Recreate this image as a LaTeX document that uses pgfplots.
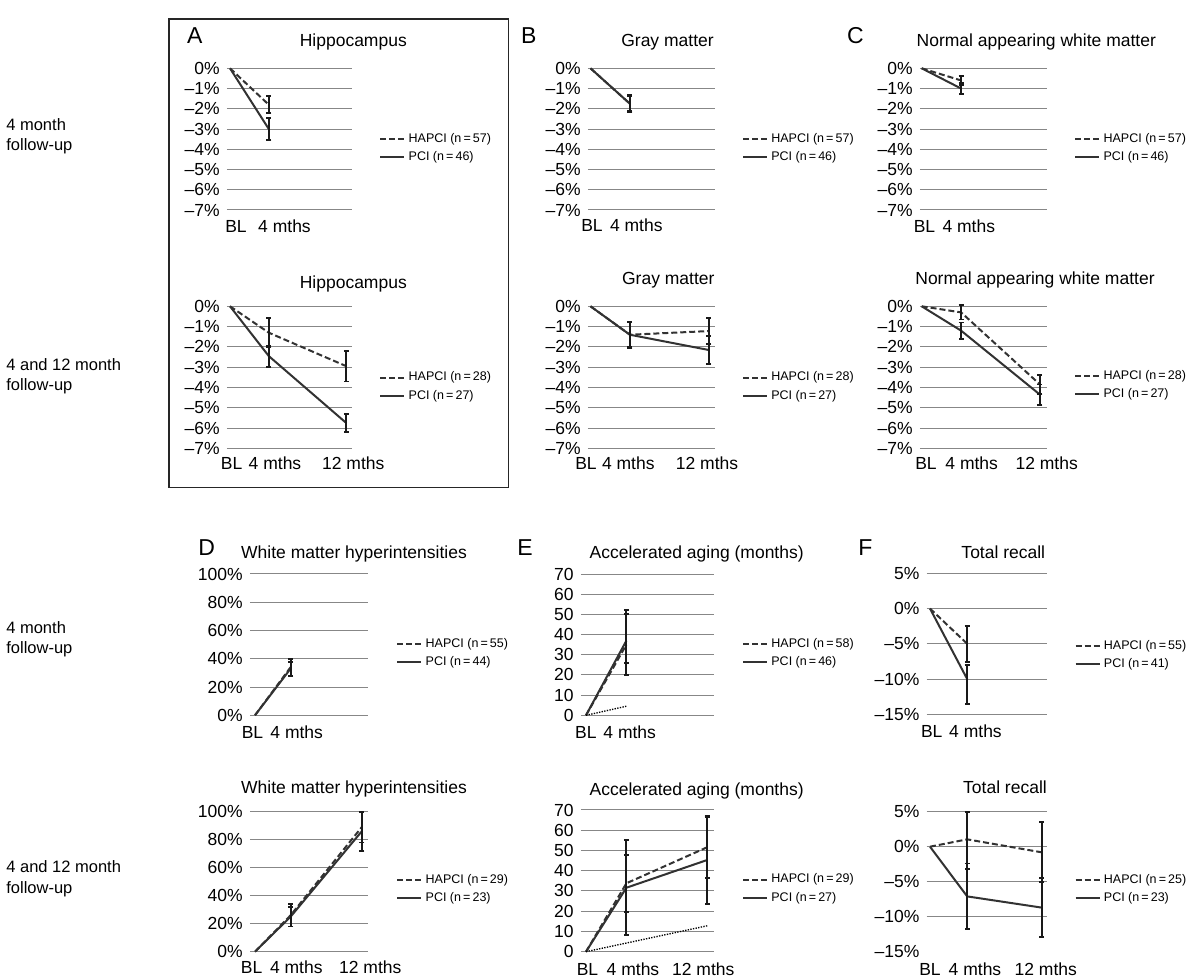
\documentclass[border=0pt]{standalone}
\usepackage{fontspec}
\setmainfont{Liberation Sans}
\usepackage{pgfplots}
\pgfplotsset{compat=1.18}

\definecolor{linec}{RGB}{50,50,50}
\definecolor{gridc}{RGB}{135,135,135}

\newcommand\mainf{\fontsize{10.5pt}{12pt}\selectfont}
\newcommand\legf{\fontsize{7.5pt}{9pt}\selectfont}
\newcommand\rowf{\fontsize{9.9pt}{12pt}\selectfont}
\newcommand\letf{\fontsize{13.8pt}{16pt}\selectfont}

\pgfplotsset{
  panel/.style={
    scale only axis, clip=false, anchor=south west,
    axis line style={draw=none},
    major tick length=0pt, xtick=\empty,
    ymajorgrids, grid style={gridc, line width=0.6pt},
    tick label style={font=\mainf, inner sep=0pt},
    /pgf/number format/assume math mode=true,
    yticklabel shift=4.2pt,
    legend style={draw=none, fill=none, font=\legf, anchor=west},
    legend cell align=left,
    legend image code/.code={\draw[##1] (0pt,0pt) -- (14.4pt,0pt);},
  },
  pctrow/.style={ymin=-7, ymax=0, ytick={-7,...,0},
    yticklabels={--7\%,--6\%,--5\%,--4\%,--3\%,--2\%,--1\%,0\%}},
  hapci/.style={linec, line width=1.2pt, dash pattern=on 3.6pt off 1.8pt, mark=none},
  pci/.style={linec, line width=1.2pt, mark=none},
  ebar/.style={draw=none, mark=none, forget plot,
    error bars/y dir=both, error bars/y explicit,
    error bars/error mark=-,
    error bars/error bar style={draw=black!90, line width=1.1pt, solid},
    error bars/error mark options={draw=black!90, line width=1.1pt, mark size=1.5pt, solid, rotate=90}},
  normal/.style={black, line width=0.8pt, dash pattern=on 0.8pt off 0.8pt, forget plot},
}

\begin{document}
\begin{tikzpicture}[x=0.6pt, y=-0.6pt]
\useasboundingbox (0,0) rectangle (1192,979);

% ---------- row 1: 4 month follow-up ----------
\begin{axis}[panel, pctrow, at={(136.2pt,-126pt)}, width=75pt, height=85.02pt,
  xmin=-0.309, xmax=12.577, legend style={at={(axis description cs:1.176,0.4375)}}]
\addplot[hapci] coordinates {(0,0) (4,-1.8)};
\addlegendentry{HAPCI (n\,=\,57)}
\addplot[pci] coordinates {(0,0) (4,-3.0)};
\addlegendentry{PCI (n\,=\,46)}
\addplot[ebar] coordinates {(4,-1.8) +- (0,0.42)};
\addplot[ebar] coordinates {(4,-3.0) +- (0,0.53)};
\end{axis}

\begin{axis}[panel, pctrow, at={(352.8pt,-126pt)}, width=76.2pt, height=85.02pt,
  xmin=-0.254, xmax=12.64, legend style={at={(axis description cs:1.171,0.4375)}}]
\addplot[hapci] coordinates {(0,0) (4,-1.75)};
\addlegendentry{HAPCI (n\,=\,57)}
\addplot[pci] coordinates {(0,0) (4,-1.75)};
\addlegendentry{PCI (n\,=\,46)}
\addplot[ebar] coordinates {(4,-1.75) +- (0,0.38)};
\addplot[ebar] coordinates {(4,-1.75) +- (0,0.42)};
\end{axis}

\begin{axis}[panel, pctrow, at={(552pt,-126pt)}, width=76.2pt, height=85.02pt,
  xmin=-0.172, xmax=12.71, legend style={at={(axis description cs:1.173,0.4375)}}]
\addplot[hapci] coordinates {(0,0) (4,-0.6)};
\addlegendentry{HAPCI (n\,=\,57)}
\addplot[pci] coordinates {(0,0) (4,-1.0)};
\addlegendentry{PCI (n\,=\,46)}
\addplot[ebar] coordinates {(4,-0.6) +- (0,0.22)};
\addplot[ebar] coordinates {(4,-1.0) +- (0,0.27)};
\end{axis}

% ---------- row 2: 4 and 12 month follow-up ----------
\begin{axis}[panel, pctrow, at={(136.2pt,-269.1pt)}, width=75pt, height=85.32pt,
  xmin=-0.309, xmax=12.577, legend style={at={(axis description cs:1.176,0.4346)}}]
\addplot[hapci] coordinates {(0,0) (4,-1.3) (12,-2.95)};
\addlegendentry{HAPCI (n\,=\,28)}
\addplot[pci] coordinates {(0,0) (4,-2.45) (12,-5.75)};
\addlegendentry{PCI (n\,=\,27)}
\addplot[ebar] coordinates {(4,-1.3) +- (0,0.72) (12,-2.95) +- (0,0.75)};
\addplot[ebar] coordinates {(4,-2.45) +- (0,0.52) (12,-5.75) +- (0,0.45)};
\end{axis}

\begin{axis}[panel, pctrow, at={(352.8pt,-269.1pt)}, width=76.2pt, height=85.32pt,
  xmin=-0.254, xmax=12.64, legend style={at={(axis description cs:1.171,0.4346)}}]
\addplot[hapci] coordinates {(0,0) (4,-1.4) (12,-1.22)};
\addlegendentry{HAPCI (n\,=\,28)}
\addplot[pci] coordinates {(0,0) (4,-1.4) (12,-2.15)};
\addlegendentry{PCI (n\,=\,27)}
\addplot[ebar] coordinates {(4,-1.4) +- (0,0.6) (12,-1.22) +- (0,0.65)};
\addplot[ebar] coordinates {(4,-1.4) +- (0,0.65) (12,-2.15) +- (0,0.68)};
\end{axis}

\begin{axis}[panel, pctrow, at={(552pt,-269.1pt)}, width=76.2pt, height=85.32pt,
  xmin=-0.172, xmax=12.71, legend style={at={(axis description cs:1.173,0.444)}}]
\addplot[hapci] coordinates {(0,0) (4,-0.3) (12,-3.85)};
\addlegendentry{HAPCI (n\,=\,28)}
\addplot[pci] coordinates {(0,0) (4,-1.2) (12,-4.35)};
\addlegendentry{PCI (n\,=\,27)}
\addplot[ebar] coordinates {(4,-0.3) +- (0,0.35) (12,-3.85) +- (0,0.45)};
\addplot[ebar] coordinates {(4,-1.2) +- (0,0.4) (12,-4.35) +- (0,0.5)};
\end{axis}

% ---------- row 3: 4 month follow-up ----------
\begin{axis}[panel, at={(150pt,-429.18pt)}, width=70.8pt, height=84.78pt,
  xmin=-0.562, xmax=12.7, ymin=0, ymax=100, ytick={0,20,...,100},
  yticklabels={0\%,20\%,40\%,60\%,80\%,100\%},
  legend style={at={(axis description cs:1.195,0.4388)}}]
\addplot[hapci] coordinates {(0,0) (4,34)};
\addlegendentry{HAPCI (n\,=\,55)}
\addplot[pci] coordinates {(0,0) (4,33)};
\addlegendentry{PCI (n\,=\,44)}
\addplot[ebar] coordinates {(4,34) +- (0,6)};
\addplot[ebar] coordinates {(4,33) +- (0,5)};
\end{axis}

\begin{axis}[panel, at={(348.6pt,-429.18pt)}, width=79.8pt, height=84.78pt,
  xmin=-0.495, xmax=12.67, ymin=0, ymax=70, ytick={0,10,...,70},
  yticklabels={0,10,20,30,40,50,60,70},
  legend style={at={(axis description cs:1.171,0.4388)}}]
\addplot[hapci] coordinates {(0,0) (4,35)};
\addlegendentry{HAPCI (n\,=\,58)}
\addplot[pci] coordinates {(0,0) (4,37)};
\addlegendentry{PCI (n\,=\,46)}
\addplot[normal] coordinates {(0,0) (4,4.5)};
\addplot[ebar] coordinates {(4,35) += (0,15) -= (0,9)};
\addplot[ebar] coordinates {(4,37) += (0,15) -= (0,17)};
\end{axis}

\begin{axis}[panel, at={(556.02pt,-428.58pt)}, width=72.18pt, height=84.6pt,
  xmin=-0.355, xmax=12.58, ymin=-15, ymax=5, ytick={-15,-10,...,5},
  yticklabels={--15\%,--10\%,--5\%,0\%,5\%},
  legend style={at={(axis description cs:1.185,0.42)}}]
\addplot[hapci] coordinates {(0,0) (4,-5.0)};
\addlegendentry{HAPCI (n\,=\,55)}
\addplot[pci] coordinates {(0,0) (4,-10.0)};
\addlegendentry{PCI (n\,=\,41)}
\addplot[ebar] coordinates {(4,-5.0) += (0,2.5) -= (0,2.6)};
\addplot[ebar] coordinates {(4,-10.0) += (0,2.0) -= (0,3.5)};
\end{axis}

% ---------- row 4: 4 and 12 month follow-up ----------
\begin{axis}[panel, at={(150pt,-571.02pt)}, width=70.8pt, height=84pt,
  xmin=-0.562, xmax=12.7, ymin=0, ymax=100, ytick={0,20,...,100},
  yticklabels={0\%,20\%,40\%,60\%,80\%,100\%},
  legend style={at={(axis description cs:1.195,0.449)}}]
\addplot[hapci] coordinates {(0,0) (4,26) (12,89)};
\addlegendentry{HAPCI (n\,=\,29)}
\addplot[pci] coordinates {(0,0) (4,25) (12,86)};
\addlegendentry{PCI (n\,=\,23)}
\addplot[ebar] coordinates {(4,26) +- (0,8) (12,89) +- (0,11)};
\addplot[ebar] coordinates {(4,25) +- (0,7) (12,86) +- (0,14)};
\end{axis}

\begin{axis}[panel, at={(348.6pt,-571.02pt)}, width=79.8pt, height=85.02pt,
  xmin=-0.495, xmax=12.67, ymin=0, ymax=70, ytick={0,10,...,70},
  yticklabels={0,10,20,30,40,50,60,70},
  legend style={at={(axis description cs:1.171,0.4446)}}]
\addplot[hapci] coordinates {(0,0) (4,33.8) (12,51.6)};
\addlegendentry{HAPCI (n\,=\,29)}
\addplot[pci] coordinates {(0,0) (4,31.6) (12,45.3)};
\addlegendentry{PCI (n\,=\,27)}
\addplot[normal] coordinates {(0,0) (12,12.8)};
\addplot[ebar] coordinates {(4,33.8) +- (0,14) (12,51.6) +- (0,15)};
\addplot[ebar] coordinates {(4,31.6) +- (0,23.5) (12,45.3) +- (0,21.7)};
\end{axis}

\begin{axis}[panel, at={(556.02pt,-571.02pt)}, width=72.18pt, height=84pt,
  xmin=-0.355, xmax=12.58, ymin=-15, ymax=5, ytick={-10,-5,0,5},
  yticklabels={--10\%,--5\%,0\%,5\%},
  extra y ticks={-15}, extra y tick labels={--15\%}, extra y tick style={grid=none},
  legend style={at={(axis description cs:1.185,0.446)}}]
\addplot[hapci] coordinates {(0,0) (4,1.05) (12,-0.8)};
\addlegendentry{HAPCI (n\,=\,25)}
\addplot[pci] coordinates {(0,0) (4,-7.1) (12,-8.7)};
\addlegendentry{PCI (n\,=\,23)}
\addplot[ebar] coordinates {(4,1.05) += (0,3.95) -= (0,4.25) (12,-0.8) +- (0,4.3)};
\addplot[ebar] coordinates {(4,-7.1) +- (0,4.7) (12,-8.7) +- (0,4.2)};
\end{axis}

% ---------- frame round panel A ----------
\draw[line width=0.7pt, black!85] (169,19) rectangle (508.5,487.3);

% ---------- row labels ----------
\begin{scope}[every node/.style={font=\rowf, anchor=base west, inner sep=0pt}]
\node at (6,131) {4 month};
\node at (6,151) {follow-up};
\node at (6,370) {4 and 12 month};
\node at (6,390) {follow-up};
\node at (6,633) {4 month};
\node at (6,653) {follow-up};
\node at (6,872) {4 and 12 month};
\node at (6,893) {follow-up};
\end{scope}

% ---------- panel letters ----------
\begin{scope}[every node/.style={font=\letf, anchor=base west, inner sep=0pt}]
\node at (186.7,44) {A};
\node at (520.7,44) {B};
\node at (846.7,43.5) {C};
\node at (198,555) {D};
\node at (517,555) {E};
\node at (858,555) {F};
\end{scope}

% ---------- titles ----------
\begin{scope}[every node/.style={font=\mainf, anchor=base, inner sep=0pt}]
\node at (353.3,46.3) {Hippocampus};
\node at (667.5,46.5) {Gray matter};
\node at (1036.3,46.5) {Normal appearing white matter};
\node at (353.3,288.3) {Hippocampus};
\node at (668.3,285) {Gray matter};
\node at (1035,285) {Normal appearing white matter};
\node at (354,558) {White matter hyperintensities};
\node at (696.7,558) {Accelerated aging (months)};
\node at (1003.3,558.3) {Total recall};
\node at (354,793.3) {White matter hyperintensities};
\node at (696.7,795) {Accelerated aging (months)};
\node at (1005,793.3) {Total recall};
% x labels
\node at (236,232.3) {BL};   \node at (284.5,232.3) {4 mths};
\node at (592,231.7) {BL};   \node at (636.3,231.7) {4 mths};
\node at (924.5,232.3) {BL}; \node at (968.8,232.3) {4 mths};
\node at (231.7,469) {BL};   \node at (275,469) {4 mths};   \node at (353.3,469) {12 mths};
\node at (586,469) {BL};     \node at (628.3,469) {4 mths}; \node at (707,469) {12 mths};
\node at (926,469) {BL};     \node at (971.7,469) {4 mths}; \node at (1046.7,469) {12 mths};
\node at (252.5,738.3) {BL}; \node at (296.7,738.3) {4 mths};
\node at (585.8,738.3) {BL}; \node at (629.7,738.3) {4 mths};
\node at (931.7,737.3) {BL}; \node at (975.5,737.3) {4 mths};
\node at (251.7,973) {BL};   \node at (296.3,973) {4 mths};   \node at (370.3,973) {12 mths};
\node at (587.5,975) {BL};   \node at (633,975) {4 mths};     \node at (703.3,975) {12 mths};
\node at (930,975.5) {BL};   \node at (975,975.5) {4 mths};   \node at (1045.8,975.5) {12 mths};
\end{scope}
\end{tikzpicture}
\end{document}
